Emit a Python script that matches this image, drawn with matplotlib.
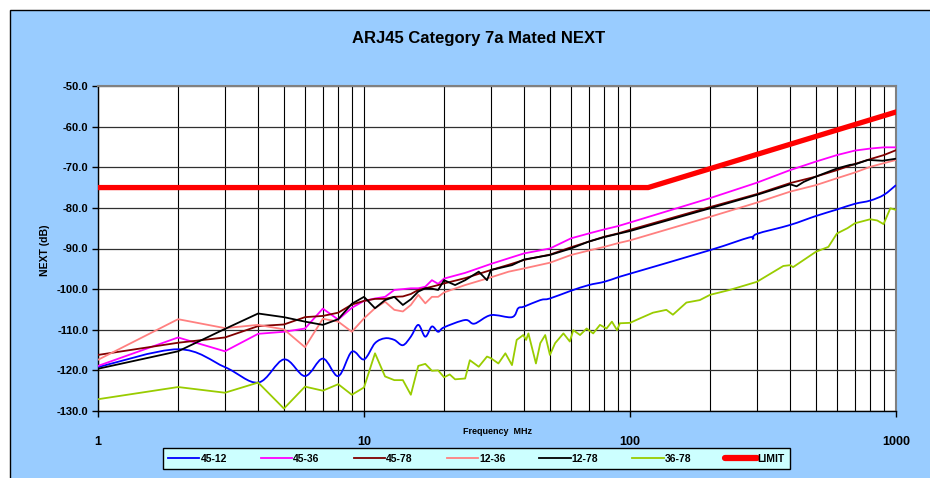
import numpy as np
import matplotlib
matplotlib.use("Agg")
import matplotlib.pyplot as plt
from matplotlib.path import Path
from matplotlib.patches import PathPatch, Rectangle
from matplotlib.lines import Line2D

plt.rcParams['font.family'] = ['Liberation Sans', 'DejaVu Sans']

# frequencies (MHz)
freq = [1, 2, 3, 4, 5, 6, 7, 8, 9, 10, 11, 12, 13, 14, 15, 16, 17, 18, 19, 20,
        24, 30, 35, 40, 50, 60, 70, 80, 90, 100, 200, 300, 400, 500, 600, 700, 800, 900, 1000]

next_4536 = [-118.9, -111.9, -115.3, -111.0, -110.5, -109.7, -104.8, -107.5, -104.6, -102.9,
             -102.3, -101.9, -100.2, -100.0, -99.8, -99.8, -99.4, -97.8, -98.7, -97.4,
             -96.0, -93.8, -92.4, -91.2, -90.0, -87.5, -86.3, -85.3, -84.5, -83.6,
             -77.6, -73.8, -70.7, -68.6, -67.0, -65.9, -65.4, -65.1, -65.1]

next_4578 = [-116.2, -113.2, -111.9, -109.1, -108.7, -106.9, -106.6, -105.8, -103.8, -102.9,
             -102.4, -102.4, -101.9, -101.8, -101.2, -100.2, -99.8, -99.4, -99.0, -98.6,
             -97.3, -95.3, -94.0, -92.8, -91.5, -89.7, -88.3, -87.1, -86.3, -85.4,
             -79.8, -76.6, -73.9, -72.3, -70.7, -69.2, -68.0, -67.0, -65.8]

next_1236 = [-117.4, -107.4, -109.6, -108.8, -109.9, -114.3, -107.3, -108.0, -110.5, -107.2,
             -104.7, -103.1, -105.1, -105.5, -103.9, -101.4, -103.5, -101.9, -101.9, -100.8,
             -99.0, -97.1, -95.7, -94.9, -93.5, -91.6, -90.5, -89.6, -88.7, -88.0,
             -82.2, -78.7, -76.0, -74.4, -72.7, -71.3, -69.9, -69.0, -68.2]

freq_1278 = [1, 2, 3, 4, 5, 6, 7, 8, 9, 10, 11, 12, 13, 14, 15, 16, 17, 18, 19, 20,
             22, 24, 27, 29, 30, 36, 40, 50, 60, 70, 80, 90, 100, 200, 300, 400, 423, 450,
             500, 600, 673, 700, 785, 890, 1000]
next_1278 = [-119.6, -115.3, -109.8, -106.0, -106.9, -108.0, -108.8, -107.4, -103.6, -101.9,
             -104.7, -102.7, -101.9, -103.9, -102.5, -100.6, -99.8, -99.9, -100.2, -97.8,
             -99.0, -97.8, -95.7, -97.8, -95.3, -94.1, -92.7, -91.6, -90.0, -88.3,
             -87.2, -86.4, -85.7, -80.1, -76.8, -74.2, -74.7, -73.6,
             -72.3, -70.3, -69.4, -69.3, -68.2, -68.4, -67.9]

freq_4512 = [1, 2, 3, 4, 5, 6, 7, 8, 9, 10, 11, 12, 13, 14, 15, 16, 17, 18, 19, 20,
             24, 26, 30, 36, 38, 40, 46, 50, 60, 70, 80, 90, 100, 200, 280, 290, 300,
             400, 500, 600, 700, 800, 900, 1000]
next_4512 = [-119.2, -114.8, -119.2, -123.0, -117.3, -121.4, -117.1, -121.4, -115.4, -117.3,
             -113.3, -112.1, -112.5, -113.8, -111.7, -108.8, -111.7, -109.2, -110.5, -109.4,
             -107.6, -108.5, -106.4, -106.9, -104.7, -104.3, -102.7, -102.3, -100.4, -99.0,
             -98.2, -97.1, -96.2, -90.4, -87.3, -87.6, -86.4,
             -84.2, -82.0, -80.4, -79.0, -78.2, -76.8, -74.4]

freq_3678 = [1, 2, 3, 4, 5, 6, 7, 8, 9, 10, 11, 12, 13, 14, 15, 16, 17, 18, 19, 20,
             21, 22, 24, 25, 27, 29, 30, 32, 34, 36, 37.5, 39.7, 40.7, 41.5, 44.3, 46, 48,
             50, 52.3, 56.2, 59.4, 61.2, 64.9, 68.7, 72.7, 77.1, 81.6, 85.5, 89.4, 91.6,
             100, 109, 122, 137, 145, 163, 183, 200, 237, 300, 377, 400, 410, 500, 557,
             600, 657, 700, 800, 850, 898, 952, 1000]
next_3678 = [-127.1, -124.1, -125.5, -123.0, -129.4, -124.0, -125.0, -123.4, -126.0, -124.2,
             -115.8, -121.5, -122.4, -122.4, -126.0, -118.9, -118.4, -120.1, -120.0, -121.7,
             -121.0, -122.2, -122.0, -117.5, -119.1, -116.6, -117.0, -118.3, -115.8, -118.7,
             -112.5, -111.3, -112.5, -110.9, -118.3, -113.3, -111.3,
             -116.2, -113.3, -110.9, -112.9, -110.1, -111.3, -109.7, -110.9, -108.8, -109.7,
             -108.0, -110.1, -108.4,
             -108.3, -107.2, -105.8, -105.1, -106.3, -103.3, -102.7, -101.4, -100.2, -98.2,
             -94.3, -94.1, -94.6, -90.8, -89.6,
             -86.3, -85.0, -83.8, -82.8, -83.1, -84.0, -80.1, -80.5]

freq_limit = [1, 117, 1000]
limit = [-75.0, -75.0, -56.4]

y_ticks = [-50, -60, -70, -80, -90, -100, -110, -120, -130]
x_ticks = [1, 10, 100, 1000]


def smooth_path(x, y):
    # Bezier through the points (Catmull-Rom style), built in log-x space
    pts = np.column_stack([np.log10(x), y])
    verts = [pts[0]]
    codes = [Path.MOVETO]
    n = len(pts)
    for i in range(n - 1):
        p0 = pts[i - 1] if i > 0 else pts[i]
        p1 = pts[i]
        p2 = pts[i + 1]
        p3 = pts[i + 2] if i + 2 < n else pts[i + 1]
        verts += [p1 + (p2 - p0) / 6, p2 - (p3 - p1) / 6, p2]
        codes += [Path.CURVE4] * 3
    verts = np.array(verts)
    verts[:, 0] = 10 ** verts[:, 0]
    return Path(verts, codes)


fig = plt.figure(figsize=(9.3, 4.78), dpi=100)
fig.patch.set_facecolor('white')
fig.patches.append(Rectangle((10 / 930, -0.1), 1.2, 1 - 10 / 478 + 0.1, transform=fig.transFigure,
                             facecolor='#99CCFF', edgecolor='black', linewidth=1.0, zorder=-10))

ax = fig.add_axes([98 / 930, 1 - 411 / 478, 798 / 930, 325 / 478])
ax.set_facecolor('white')
ax.set_xscale('log')
ax.set_xlim(1, 1000)
ax.set_ylim(-130, -50)

lw = 1.3
ax.add_patch(PathPatch(smooth_path(freq_4512, next_4512), fill=False, edgecolor='#0000FF', lw=lw, zorder=3))
ax.plot(freq, next_4536, color='#FF00FF', lw=lw, zorder=3)
ax.plot(freq, next_4578, color='#800000', lw=lw, zorder=3)
ax.plot(freq, next_1236, color='#FF8080', lw=lw, zorder=3)
ax.plot(freq_1278, next_1278, color='black', lw=lw, zorder=3)
ax.plot(freq_3678, next_3678, color='#99CC00', lw=lw, zorder=3)
ax.plot(freq_limit, limit, color='#FF0000', lw=3.8, zorder=4)

ax.set_yticks(y_ticks)
ax.set_yticklabels([f"{v:.1f}" for v in y_ticks], fontsize=8, fontweight='bold')
ax.set_xticks(x_ticks)
ax.set_xticklabels([str(v) for v in x_ticks], fontsize=9, fontweight='bold')
ax.xaxis.set_minor_formatter(plt.NullFormatter())
ax.tick_params(axis='y', direction='out', length=4, width=1, pad=3)
ax.tick_params(axis='x', which='major', direction='out', length=4, width=1, pad=14)
ax.tick_params(axis='x', which='minor', length=0)
ax.grid(True, axis='y', color='#303030', lw=0.9)
ax.grid(True, axis='x', which='both', color='black', lw=0.8)
ax.set_axisbelow(True)
for s in ['top', 'right']:
    ax.spines[s].set_color('#808080')
    ax.spines[s].set_linewidth(1.5)
for s in ['left', 'bottom']:
    ax.spines[s].set_color('black')
    ax.spines[s].set_linewidth(1.0)

fig.text(479 / 930, 1 - 38 / 478, 'ARJ45 Category 7a Mated NEXT', ha='center', va='center',
         fontsize=12, fontweight='bold')
fig.text(45 / 930, 1 - 250 / 478, 'NEXT (dB)', rotation=90, ha='center', va='center',
         fontsize=7.5, fontweight='bold')
fig.text(497 / 930, 1 - 431 / 478, 'Frequency  MHz', ha='center', va='center',
         fontsize=6.5, fontweight='bold')

handles = [
    Line2D([], [], color='#0000FF', lw=lw),
    Line2D([], [], color='#FF00FF', lw=lw),
    Line2D([], [], color='#800000', lw=lw),
    Line2D([], [], color='#FF8080', lw=lw),
    Line2D([], [], color='black', lw=lw),
    Line2D([], [], color='#99CC00', lw=lw),
    Line2D([], [], color='#FF0000', lw=4.5, solid_capstyle='round'),
]
labels = ['45-12', '45-36', '45-78', '12-36', '12-78', '36-78', 'LIMIT']
leg = fig.legend(handles, labels, loc='center', ncol=7, mode='expand',
                 bbox_to_anchor=(163 / 930, 1 - 471 / 478, 627 / 930, 25 / 478),
                 prop={'size': 7.5, 'weight': 'bold'}, handlelength=3.0, handletextpad=0.1,
                 borderaxespad=0, frameon=True, fancybox=False, borderpad=0.5)
leg.get_frame().set_facecolor('#CCFFFF')
leg.get_frame().set_edgecolor('black')
leg.get_frame().set_linewidth(1.0)
leg.get_frame().set_alpha(1)

fig.savefig('out.png', dpi=100)
